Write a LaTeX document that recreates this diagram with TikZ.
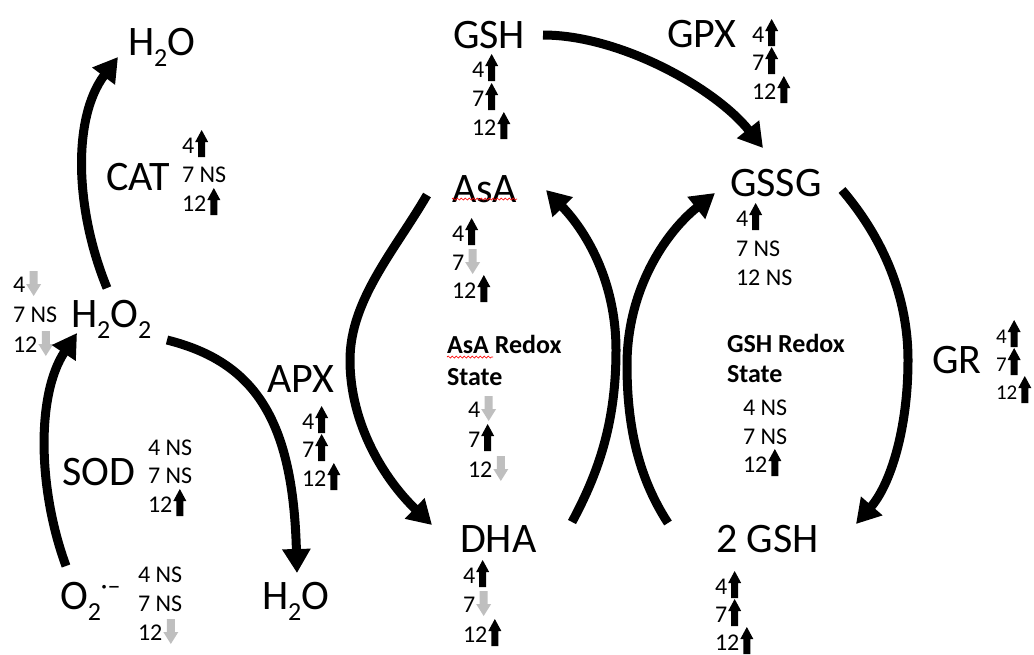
\documentclass[tikz,border=0pt]{standalone}
\usepackage{fontspec}
\setmainfont{Carlito}
\usetikzlibrary{arrows.meta,decorations.pathmorphing}
\definecolor{downgray}{HTML}{BFBFBF}
\newcommand\sbs[1]{\raisebox{-11pt}{\fontsize{26}{26}\selectfont #1}}
\newcommand\superoxdot{\raisebox{15pt}{\fontsize{26}{26}\selectfont\textperiodcentered–}}
% value rows: plain text, text followed by an up arrow, text followed by a down arrow
\newcommand\vtx[3]{\node[valtxt] (#1) at (#2) {#3};}
\newcommand\vup[3]{\node[valtxt] (#1) at (#2) {#3}; \pic at ([xshift=1pt]#1.base east) {uparr};}
\newcommand\vdn[3]{\node[valtxt] (#1) at (#2) {#3}; \pic at ([xshift=1pt]#1.base east) {dnarr};}
\begin{document}
\begin{tikzpicture}[x=1pt,y=-1pt,
  biglbl/.style={font=\fontsize{42}{48}\selectfont, inner sep=0pt, outer sep=0pt, anchor=base west},
  valtxt/.style={font=\fontsize{24}{28}\selectfont, inner sep=0pt, outer sep=0pt, anchor=base west},
  boldlbl/.style={font=\fontsize{26}{30}\selectfont\bfseries, inner sep=0pt, outer sep=0pt, anchor=base west},
  flux/.style={line width=9pt, -{Triangle[length=24pt,width=27pt]}},
  squiggle/.style={red, line width=0.7pt, decorate, decoration={snake, amplitude=1pt, segment length=4pt}},
  uparr/.pic={\fill[black] (3,4) -- (3,-11) -- (0,-11) -- (6.5,-23) -- (13,-11) -- (10,-11) -- (10,4) -- cycle;},
  dnarr/.pic={\fill[downgray] (3.5,-21) -- (3.5,-8) -- (0,-8) -- (7.5,4) -- (15,-8) -- (11.5,-8) -- (11.5,-21) -- cycle;}
]
\useasboundingbox (0,0) rectangle (1034,654);

% ---------------- metabolites and enzymes ----------------
\node[biglbl] (h2otop) at (128,55) {H\sbs{2}O};
\node[biglbl] (cat)    at (106,190) {CAT};
\node[biglbl] (h2o2)   at (71,327) {H\sbs{2}O\sbs{2}};
\node[biglbl] (sod)    at (62,485) {SOD};
\node[biglbl] (o2)     at (60,609) {O\sbs{2}\superoxdot};
\node[biglbl] (apx)    at (267,392) {APX};
\node[biglbl] (h2obot) at (262,609) {H\sbs{2}O};
\node[biglbl] (gsh)    at (453,48) {GSH};
\node[biglbl] (gpx)    at (667,47) {GPX};
\node[biglbl] (asa)    at (452,202) {AsA};
\node[biglbl] (dha)    at (460,552) {DHA};
\node[biglbl] (gssg)   at (730,196) {GSSG};
\node[biglbl] (gr)     at (932,373) {GR};
\node[biglbl] (gsh2)   at (716,552) {2 GSH};

\node[boldlbl] (asarx)  at (447,353) {AsA Redox};
\node[boldlbl] (asast)  at (447,385) {State};
\node[boldlbl] (gshrx)  at (727,352) {GSH Redox};
\node[boldlbl] (gshst)  at (727,382) {State};

% spell-check underlines
\draw[squiggle] ([yshift=3pt]asa.base west) -- ([yshift=3pt]asa.base east);
\draw[squiggle] (447,357) -- (493,357);

% ---------------- values at 4, 7 and 12 ----------------
\vup{cat4}{182,153}{4} \vtx{cat7}{182,182}{7 NS} \vup{cat12}{182,211}{12}
\vdn{hp4}{13,292}{4} \vtx{hp7}{13,322}{7 NS} \vdn{hp12}{13,352}{12}
\vtx{sod4}{148,455}{4 NS} \vtx{sod7}{148,483}{7 NS} \vup{sod12}{148,512}{12}
\vtx{o4}{138,582}{4 NS} \vtx{o7}{138,611}{7 NS} \vdn{o12}{138,640}{12}
\vup{apx4}{302,429}{4} \vup{apx7}{302,457}{7} \vup{apx12}{302,486}{12}
\vup{gsh4}{472,77}{4} \vup{gsh7}{472,106}{7} \vup{gsh12}{472,135}{12}
\vup{gpx4}{752,42}{4} \vup{gpx7}{752,70}{7} \vup{gpx12}{752,99}{12}
\vup{asa4}{452,241}{4} \vdn{asa7}{452,270}{7} \vup{asa12}{452,298}{12}
\vdn{ar4}{468,417}{4} \vup{ar7}{468,447}{7} \vdn{ar12}{468,477}{12}
\vup{dha4}{463,583}{4} \vdn{dha7}{463,612}{7} \vup{dha12}{463,642}{12}
\vup{gssg4}{736,226}{4} \vtx{gssg7}{736,256}{7 NS} \vtx{gssg12}{736,285}{12 NS}
\vtx{gr4x}{743,415}{4 NS} \vtx{gr7x}{743,444}{7 NS} \vup{gr12x}{743,472}{12}
\begin{scope}[valtxt/.append style={font=\fontsize{21}{24}\selectfont}]
\vup{gr4}{996,343}{4} \vup{gr7}{996,371}{7} \vup{gr12}{996,399}{12}
\end{scope}
\vup{gg4}{715,594}{4} \vup{gg7}{715,622}{7} \vup{gg12}{715,650}{12}

% ---------------- reaction arrows ----------------
\coordinate (catS) at (107,288);  \coordinate (catE) at (118,57);
\coordinate (sodS) at (66,566);   \coordinate (sodE) at (77,333);
\coordinate (apxS) at (167,340);  \coordinate (apxE) at (297,573);
\coordinate (gpxS) at (543,35);   \coordinate (gpxE) at (763,148);
\coordinate (oxS)  at (427,195);  \coordinate (oxM) at (350,360);  \coordinate (oxE) at (432,525);
\coordinate (rdS)  at (572,522);  \coordinate (rdM) at (616,350);  \coordinate (rdE) at (546,190);
\coordinate (goS)  at (668,523);  \coordinate (goM) at (627,365);  \coordinate (goE) at (715,193);
\coordinate (grS)  at (842,190);  \coordinate (grM) at (908,360);  \coordinate (grE) at (856,524);

\draw[flux] (catS) .. controls (75,210) and (72,118) .. (catE);
\draw[flux] (sodS) .. controls (38,490) and (36,395) .. (sodE);
\draw[flux] (apxS) .. controls (255,362) and (293,420) .. (apxE);
\draw[flux] (gpxS) .. controls (620,35) and (715,88) .. (gpxE);
\draw[flux] (oxS) .. controls (395,250) and (350,300) .. (oxM)
                  .. controls (350,425) and (385,480) .. (oxE);
\draw[flux] (rdS) .. controls (600,470) and (616,420) .. (rdM)
                  .. controls (616,280) and (585,230) .. (rdE);
\draw[flux] (goS) .. controls (640,480) and (627,430) .. (goM)
                  .. controls (627,290) and (665,233) .. (goE);
\draw[flux] (grS) .. controls (878,232) and (908,290) .. (grM)
                  .. controls (908,430) and (890,485) .. (grE);
\end{tikzpicture}
\end{document}
